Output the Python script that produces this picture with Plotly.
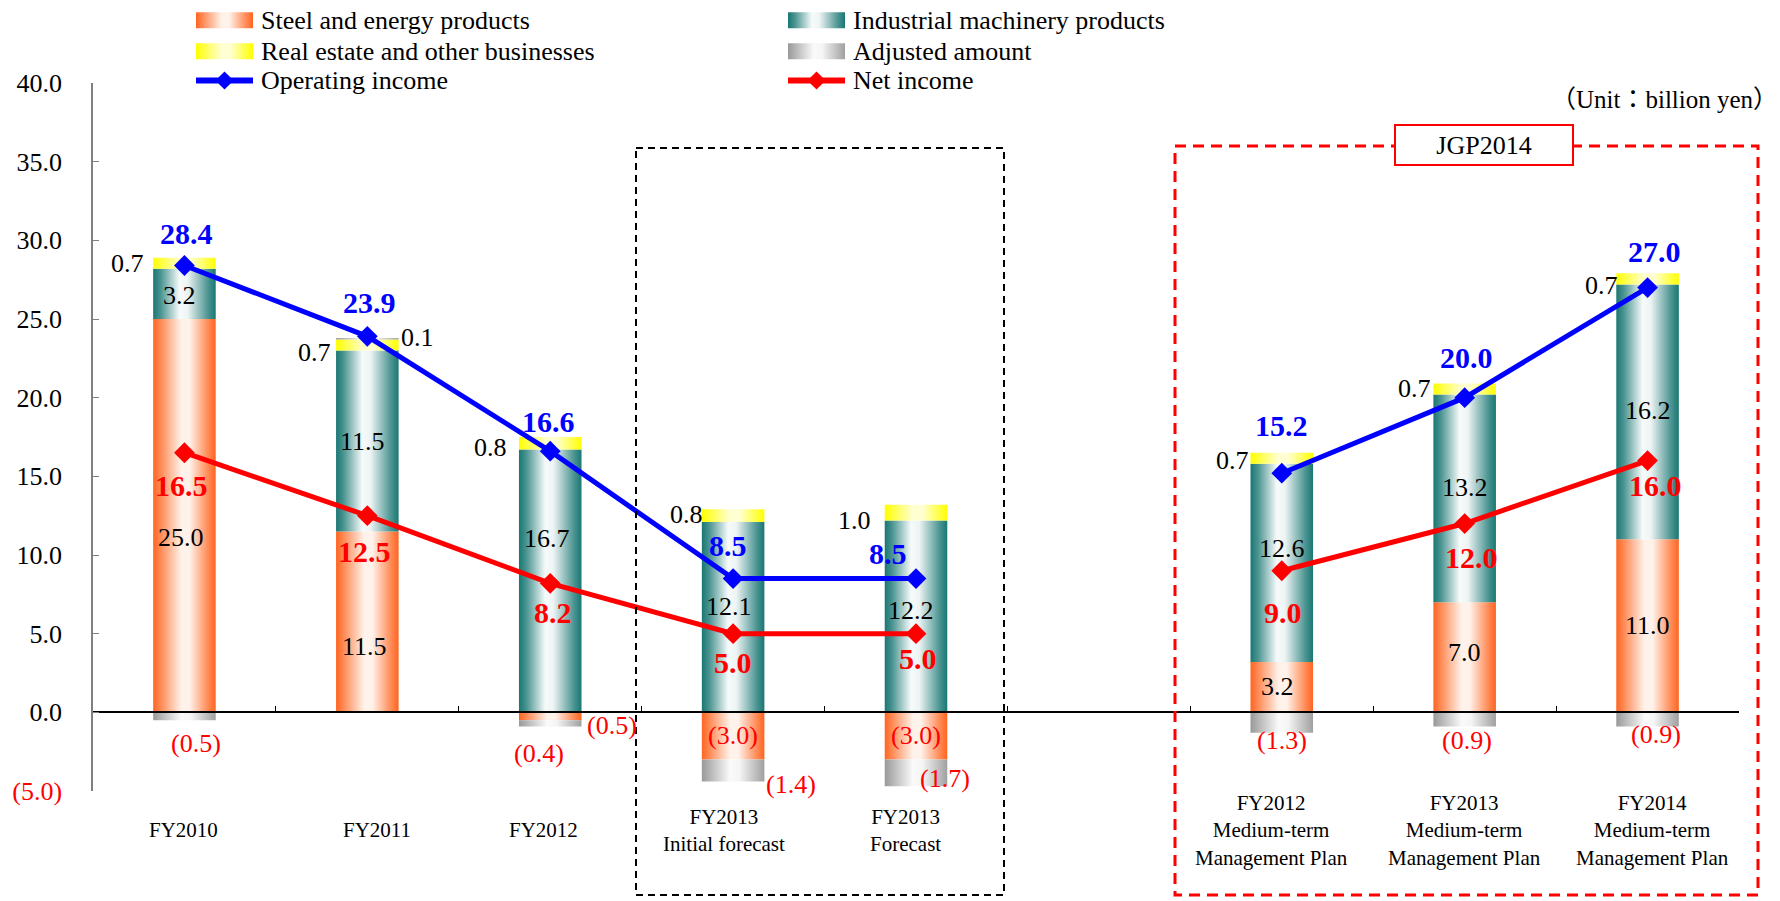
import plotly.graph_objects as go

W, H = 1780, 901

# ---------------- data ----------------
categories = ["FY2010", "FY2011", "FY2012",
              "FY2013<br>Initial forecast", "FY2013<br>Forecast", "",
              "FY2012<br>Medium-term<br>Management Plan",
              "FY2013<br>Medium-term<br>Management Plan",
              "FY2014<br>Medium-term<br>Management Plan"]
steel = [25.0, 11.5, -0.5, -3.0, -3.0, None, 3.2, 7.0, 11.0]
machinery = [3.2, 11.5, 16.7, 12.1, 12.2, None, 12.6, 13.2, 16.2]
real_estate = [0.7, 0.7, 0.8, 0.8, 1.0, None, 0.7, 0.7, 0.7]
adjusted = [-0.5, 0.1, -0.4, -1.4, -1.7, None, -1.3, -0.9, -0.9]
operating_income = [28.4, 23.9, 16.6, 8.5, 8.5, None, 15.2, 20.0, 27.0]
net_income = [16.5, 12.5, 8.2, 5.0, 5.0, None, 9.0, 12.0, 16.0]
y_tick_values = [-5, 0, 5, 10, 15, 20, 25, 30, 35, 40]

series_names = ["Steel and energy products", "Industrial machinery products",
                "Real estate and other businesses", "Adjusted amount"]

# ---------------- styles / layout ----------------
FONT = "Liberation Serif, Times New Roman, serif"
PLOT_L, PLOT_R, PLOT_T, PLOT_B = 93, 1739, 83, 791
Y_MIN, Y_MAX = -5, 40
HW = 0.171  # half bar width (category units)

scales = {
    "Steel and energy products": [[0, "#FF6420"], [0.12, "#FF8A55"], [0.45, "#FFF2EA"],
                                  [0.58, "#FFF2EA"], [0.88, "#FF8A55"], [1, "#FF6420"]],
    "Industrial machinery products": [[0, "#1A7773"], [0.12, "#4A9491"], [0.42, "#F6FAFA"],
                                      [0.55, "#EEF4F4"], [0.88, "#4A9491"], [1, "#1A7773"]],
    "Real estate and other businesses": [[0, "#FFFF00"], [0.45, "#FFFFD2"], [0.6, "#FFFFD2"],
                                         [1, "#FFFF00"]],
    "Adjusted amount": [[0, "#999999"], [0.45, "#FAFAFA"], [0.6, "#F5F5F5"], [1, "#A0A0A0"]],
}
BLUE, RED = "#0000FF", "#FF0000"

# label placement (value position, anchor: c=centre, l=left of bar, r=right of bar, px shift)
steel_lab = [(11.1, 'c', -3), (4.2, 'c', -3), (-0.82, 'r', 3), (-1.5, 'c', 0), (-1.5, 'c', 0), None,
             (1.66, 'c', -4), (3.8, 'c', 0), (5.5, 'c', 0)]
mach_lab = [(26.5, 'c', -5), (17.2, 'c', -5), (11.05, 'c', -3), (6.7, 'c', -4), (6.5, 'c', -5), None,
            (10.4, 'c', 0), (14.3, 'c', 0), (19.2, 'c', 0)]
re_lab = [(28.5, 'l', 7), (22.9, 'l', 3), (16.85, 'l', 10), (12.6, 'l', -3), (12.2, 'l', 12), None,
          (16.0, 'l', 0), (20.6, 'l', 0), (27.1, 'l', -4)]
adj_lab = [(-2.0, 'c', 12), (23.8, 'r', 0), (-2.6, 'c', -11), (-4.6, 'r', 0), (-4.2, 'c', 29), None,
           (-1.8, 'c', 0), (-1.8, 'c', 2), (-1.41, 'c', 8)]
oi_up = [32, 34, 30, 33, 25, None, 48, 40, 36]
oi_dx = [2, 2, -2, -5, -28, None, 0, 2, 7]
ni_down = [33, 36, 29, 29, 25, None, 42, 34, 25]
ni_dx = [-3, -3, 3, 0, 2, None, 1, 7, 8]
cat_dx = [-1, 10, -7, -9, -11, 0, -10, 0, 5]


def fmt(v):
    return f"({abs(v):.1f})" if v < 0 else f"{v:.1f}"


fig = go.Figure()

# ---------------- stacked bars (gradient-filled) ----------------
series_values = [steel, machinery, real_estate, adjusted]
for i in range(len(categories)):
    if steel[i] is None:
        continue
    pos, neg = 0.0, 0.0
    for name, vals in zip(series_names, series_values):
        v = vals[i]
        if v >= 0:
            y0, y1 = pos, pos + v
            pos += v
        else:
            y0, y1 = neg + v, neg
            neg += v
        fig.add_trace(go.Scatter(
            x=[i - HW, i + HW, i + HW, i - HW, i - HW],
            y=[y0, y0, y1, y1, y0],
            mode="lines", fill="toself", line=dict(width=0),
            fillgradient=dict(type="horizontal", colorscale=scales[name]),
            name=name, hoverinfo="skip", showlegend=False, xaxis="x", yaxis="y"))

# ---------------- lines ----------------
xs = list(range(len(categories)))
fig.add_trace(go.Scatter(x=xs, y=operating_income, mode="lines+markers", name="Operating income",
                         line=dict(color=BLUE, width=5),
                         marker=dict(symbol="diamond", size=16, color=BLUE),
                         showlegend=False, connectgaps=False))
fig.add_trace(go.Scatter(x=xs, y=net_income, mode="lines+markers", name="Net income",
                         line=dict(color=RED, width=5),
                         marker=dict(symbol="diamond", size=16, color=RED),
                         showlegend=False, connectgaps=False))

ann = []

# segment labels
for vals, labs in zip(series_values, [steel_lab, mach_lab, re_lab, adj_lab]):
    for i, v in enumerate(vals):
        if v is None or labs[i] is None:
            continue
        ly, anc, sh = labs[i]
        color = RED if v < 0 else "black"
        if anc == 'c':
            x, xa, xsh = i, "center", sh
        elif anc == 'l':
            x, xa, xsh = i - HW, "right", -sh
        else:
            x, xa, xsh = i + HW, "left", sh
        ann.append(dict(x=x, y=ly, xref="x", yref="y", text=fmt(v), showarrow=False,
                        xanchor=xa, yanchor="middle", xshift=xsh,
                        font=dict(family=FONT, size=26, color=color)))

# line labels
for i, v in enumerate(operating_income):
    if v is None:
        continue
    ann.append(dict(x=i, y=v, xref="x", yref="y", text=f"<b>{v:.1f}</b>", showarrow=False,
                    xanchor="center", yanchor="middle", xshift=oi_dx[i], yshift=oi_up[i],
                    font=dict(family=FONT, size=30, color=BLUE)))
for i, v in enumerate(net_income):
    if v is None:
        continue
    ann.append(dict(x=i, y=v, xref="x", yref="y", text=f"<b>{v:.1f}</b>", showarrow=False,
                    xanchor="center", yanchor="middle", xshift=ni_dx[i], yshift=-ni_down[i],
                    font=dict(family=FONT, size=30, color=RED)))

# category labels
for i, c in enumerate(categories):
    if not c:
        continue
    ann.append(dict(x=i, y=830, xref="x", yref="y2", text=c, showarrow=False,
                    xanchor="center", yanchor="middle", xshift=cat_dx[i], align="center",
                    font=dict(family=FONT, size=21, color="black")))

# ---------------- legend (pixel overlay axes x2/y2) ----------------
legend_rows = [20.3, 51.3, 80.5]
legend_cols = [196, 788]
SW_W, SW_H = 57, 16
legend_items = [(series_names[0], 0, 0), (series_names[1], 0, 1),
                (series_names[2], 1, 0), (series_names[3], 1, 1)]
for name, r, c in legend_items:
    x0, yc = legend_cols[c], legend_rows[r]
    fig.add_trace(go.Scatter(
        x=[x0, x0 + SW_W, x0 + SW_W, x0, x0],
        y=[yc - SW_H / 2, yc - SW_H / 2, yc + SW_H / 2, yc + SW_H / 2, yc - SW_H / 2],
        mode="lines", fill="toself", line=dict(width=0),
        fillgradient=dict(type="horizontal", colorscale=scales[name]),
        hoverinfo="skip", showlegend=False, xaxis="x2", yaxis="y2"))
    ann.append(dict(x=x0 + SW_W + 6, y=yc, xref="x2", yref="y2", text=name, showarrow=False,
                    xanchor="left", yanchor="middle",
                    font=dict(family=FONT, size=26, color="black")))
for name, color, c in [("Operating income", BLUE, 0), ("Net income", RED, 1)]:
    x0, yc = legend_cols[c], legend_rows[2]
    fig.add_trace(go.Scatter(x=[x0, x0 + SW_W], y=[yc, yc], mode="lines",
                             line=dict(color=color, width=6), hoverinfo="skip",
                             showlegend=False, xaxis="x2", yaxis="y2"))
    fig.add_trace(go.Scatter(x=[x0 + SW_W / 2], y=[yc], mode="markers",
                             marker=dict(symbol="diamond", size=14, color=color),
                             hoverinfo="skip", showlegend=False, xaxis="x2", yaxis="y2"))
    ann.append(dict(x=x0 + SW_W + 6, y=yc, xref="x2", yref="y2", text=name, showarrow=False,
                    xanchor="left", yanchor="middle",
                    font=dict(family=FONT, size=26, color="black")))

# unit + JGP2014
ann.append(dict(x=1779, y=99, xref="x2", yref="y2", text="（Unit：billion yen）", showarrow=False,
                xanchor="right", yanchor="middle", borderpad=0,
                font=dict(family=FONT + ", Noto Sans CJK JP", size=25, color="black")))
ann.append(dict(x=1484, y=145, xref="x2", yref="y2", text="JGP2014", showarrow=False,
                xanchor="center", yanchor="middle", width=176, height=38, borderpad=0,
                bordercolor=RED, borderwidth=2, bgcolor="white",
                font=dict(family=FONT, size=26, color="black")))

shapes = [
    dict(type="rect", xref="x2", yref="y2", x0=636, x1=1004, y0=148, y1=895,
         line=dict(color="black", width=2, dash="7px,5px"), fillcolor="rgba(0,0,0,0)"),
    dict(type="rect", xref="x2", yref="y2", x0=1175, x1=1758, y0=146, y1=895,
         line=dict(color=RED, width=3, dash="11px,7px"), fillcolor="rgba(0,0,0,0)"),
]

ydom = [1 - PLOT_B / H, 1 - PLOT_T / H]
zero_pos = ydom[0] + (0 - Y_MIN) / (Y_MAX - Y_MIN) * (ydom[1] - ydom[0])

tick_text = [f"<span style='color:#FF0000'>({abs(t):.1f})</span>" if t < 0 else f"{t:.1f}"
             for t in y_tick_values]

fig.update_layout(
    width=W, height=H, margin=dict(l=0, r=0, t=0, b=0, pad=0, autoexpand=False),
    paper_bgcolor="white", plot_bgcolor="rgba(0,0,0,0)", showlegend=False,
    xaxis=dict(domain=[PLOT_L / W, PLOT_R / W], range=[-0.5, len(categories) - 0.5],
               anchor="free", position=zero_pos, showline=True, linecolor="black", linewidth=1.5,
               ticks="inside", ticklen=6, tickcolor="black", tickwidth=1.2, automargin=False,
               tickvals=[k + 0.5 for k in range(len(categories))], showticklabels=False,
               showgrid=False, zeroline=False, fixedrange=True),
    yaxis=dict(domain=ydom, range=[Y_MIN, Y_MAX], anchor="x", showline=True, automargin=False,
               linecolor="#808080", linewidth=1.5, ticks="inside", ticklen=6, tickcolor="#808080",
               tickvals=y_tick_values, ticktext=tick_text, ticklabelstandoff=24,
               tickfont=dict(family=FONT, size=26, color="black"),
               showgrid=False, zeroline=False, fixedrange=True),
    xaxis2=dict(domain=[0, 1], range=[0, W], visible=False, anchor="y2", fixedrange=True,
                automargin=False),
    yaxis2=dict(domain=[0, 1], range=[H, 0], visible=False, anchor="x2", fixedrange=True,
                automargin=False),
    annotations=ann, shapes=shapes,
)

fig.write_html("out.html")
